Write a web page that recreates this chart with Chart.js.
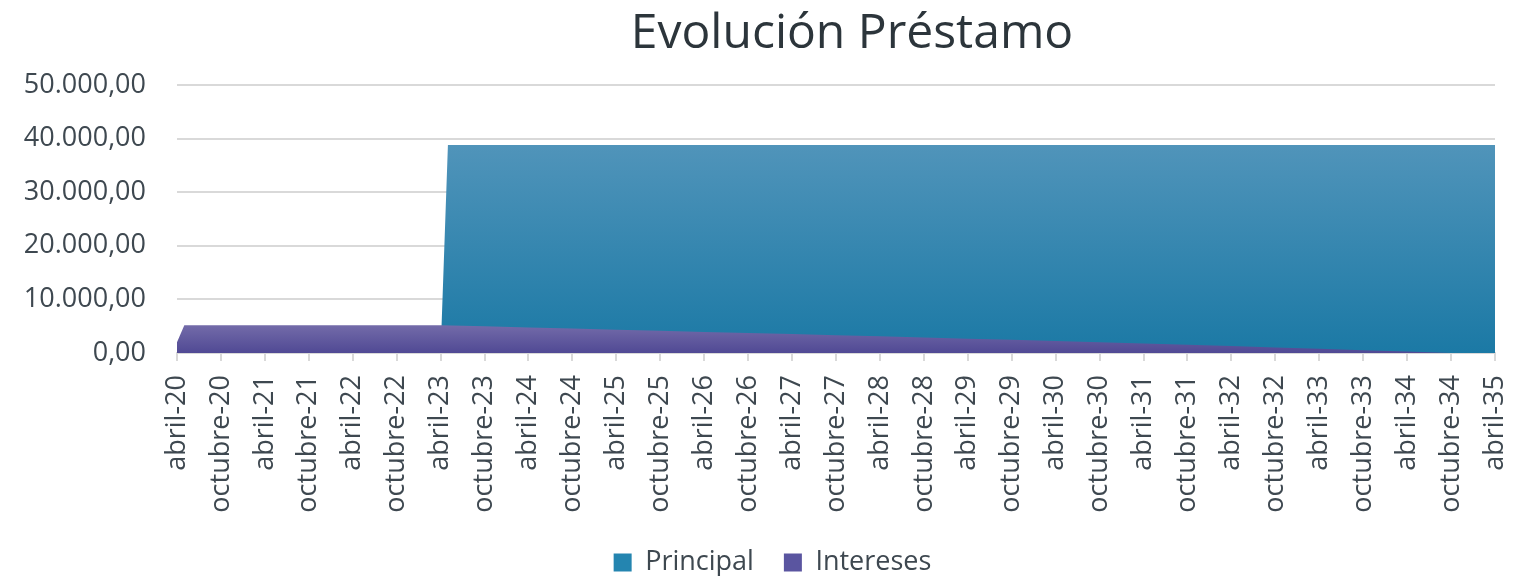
<!DOCTYPE html>
<html>
<head>
<meta charset="utf-8">
<script src="https://cdn.jsdelivr.net/npm/chart.js@4.4.1/dist/chart.umd.min.js"></script>
<style>
  body { margin: 0; background: #fff; }
  #wrap { width: 1532px; height: 576px; }
</style>
</head>
<body>
<div id="wrap"><canvas id="prestamoChart"></canvas></div>
<script>
const titulo = 'Evolución Préstamo';

// etiquetas del eje X (cada 6 meses, desde abril-20)
const tickLabels = [
  'abril-20', 'octubre-20', 'abril-21', 'octubre-21', 'abril-22', 'octubre-22',
  'abril-23', 'octubre-23', 'abril-24', 'octubre-24', 'abril-25', 'octubre-25',
  'abril-26', 'octubre-26', 'abril-27', 'octubre-27', 'abril-28', 'octubre-28',
  'abril-29', 'octubre-29', 'abril-30', 'octubre-30', 'abril-31', 'octubre-31',
  'abril-32', 'octubre-32', 'abril-33', 'octubre-33', 'abril-34', 'octubre-34',
  'abril-35'
];

// meses desde abril-20 y valores de cada serie
const principalMeses = [0, 36, 37, 180];
const principalValores = [0, 0, 38800, 38800];

const interesesMeses = [0, 1, 36, 42, 48, 54, 60, 66, 72, 78, 84, 90, 96, 102, 108,
  114, 120, 126, 132, 138, 144, 150, 156, 162, 168, 174, 180];
const interesesValores = [2000, 5200, 5200, 4990, 4780, 4570, 4360, 4150, 3940, 3740,
  3540, 3330, 3110, 2900, 2680, 2460, 2230, 2000, 1770, 1540, 1300, 1040, 790, 530,
  270, 10, 0];

const yTicks = [0, 10000, 20000, 30000, 40000, 50000];

function toPoints(xs, ys) {
  return xs.map(function(x, i) { return { x: x, y: ys[i] }; });
}

// formato 50.000,00
function formatNumber(v) {
  let entero = Math.round(v).toString().replace(/\B(?=(\d{3})+(?!\d))/g, '.');
  return entero + ',00';
}

// degradado desde la parte alta de la serie hasta el eje
function makeGradient(values, topColor, bottomColor) {
  return function(ctx) {
    const chart = ctx.chart;
    if (!chart.chartArea || !chart.scales.y) return bottomColor;
    const y = chart.scales.y;
    const top = y.getPixelForValue(Math.max.apply(null, values));
    const bottom = y.getPixelForValue(0);
    const g = chart.ctx.createLinearGradient(0, top, 0, bottom);
    g.addColorStop(0, topColor);
    g.addColorStop(1, bottomColor);
    return g;
  };
}

const textColor = '#3e4850';
const gridColor = '#d9d9d9';

// titulo dibujado a mano, centrado sobre el area del grafico
const tituloPlugin = {
  id: 'titulo',
  afterLayout: function(chart) {
    // la leyenda queda un poco a la derecha, como en Excel
    if (chart.legend) {
      chart.legend.left += 25;
      chart.legend.right += 25;
    }
  },
  afterDraw: function(chart) {
    const c = chart.ctx;
    const a = chart.chartArea;
    c.save();
    c.font = 'normal 48px "Open Sans"';
    c.fillStyle = '#2c353b';
    c.textAlign = 'center';
    c.textBaseline = 'middle';
    c.fillText(titulo, (a.left + a.right) / 2 + 16, 34);
    c.restore();
  }
};

const ctx = document.getElementById('prestamoChart').getContext('2d');
const chart = new Chart(ctx, {
  type: 'line',
  data: {
    datasets: [{
      label: 'Intereses',
      data: toPoints(interesesMeses, interesesValores),
      backgroundColor: makeGradient(interesesValores, '#736ba9', '#504994'),
      borderWidth: 0,
      pointRadius: 0,
      tension: 0,
      fill: 'origin'
    }, {
      label: 'Principal',
      data: toPoints(principalMeses, principalValores),
      backgroundColor: makeGradient(principalValores, '#5094ba', '#1b79a5'),
      borderWidth: 0,
      pointRadius: 0,
      tension: 0,
      fill: 'origin'
    }]
  },
  plugins: [tituloPlugin],
  options: {
    responsive: true,
    maintainAspectRatio: false,
    animation: false,
    layout: { padding: { left: 0, right: 37, top: 85, bottom: -10 } },
    plugins: {
      title: { display: false },
      legend: {
        position: 'bottom',
        labels: {
          color: textColor,
          font: { family: 'Open Sans', size: 27 },
          boxWidth: 18,
          boxHeight: 18,
          padding: 30,
          // Principal primero en la leyenda
          sort: function(a, b) { return b.datasetIndex - a.datasetIndex; },
          generateLabels: function(chart) {
            const solid = ['#5a55a0', '#2485b0'];
            return chart.data.datasets.map(function(ds, i) {
              return {
                text: ds.label,
                fillStyle: solid[i],
                strokeStyle: solid[i],
                lineWidth: 0,
                fontColor: textColor,
                datasetIndex: i
              };
            });
          }
        }
      },
      tooltip: { enabled: false }
    },
    scales: {
      x: {
        type: 'linear',
        min: 0,
        max: 180,
        afterFit: function(scale) {
          scale.height = 166;
          scale.paddingLeft = 0;
          scale.paddingRight = 0;
        },
        grid: { drawOnChartArea: false, drawTicks: true, tickLength: 8, color: gridColor, lineWidth: 2 },
        border: { display: true, color: gridColor, width: 2 },
        ticks: {
          stepSize: 6,
          autoSkip: false,
          maxRotation: 90,
          minRotation: 90,
          padding: 14,
          color: textColor,
          font: { family: 'Open Sans', size: 27 },
          callback: function(v) { return tickLabels[v / 6]; }
        }
      },
      y: {
        min: 0,
        max: 50000,
        afterFit: function(scale) { scale.width = 177; },
        afterBuildTicks: function(scale) {
          scale.ticks = yTicks.map(function(v) { return { value: v }; });
        },
        grid: { color: gridColor, lineWidth: 2, drawTicks: false },
        border: { display: false },
        ticks: {
          padding: 31,
          color: textColor,
          font: { family: 'Open Sans', size: 27 },
          callback: function(v) { return formatNumber(v); }
        }
      }
    }
  }
});
</script>
</body>
</html>
